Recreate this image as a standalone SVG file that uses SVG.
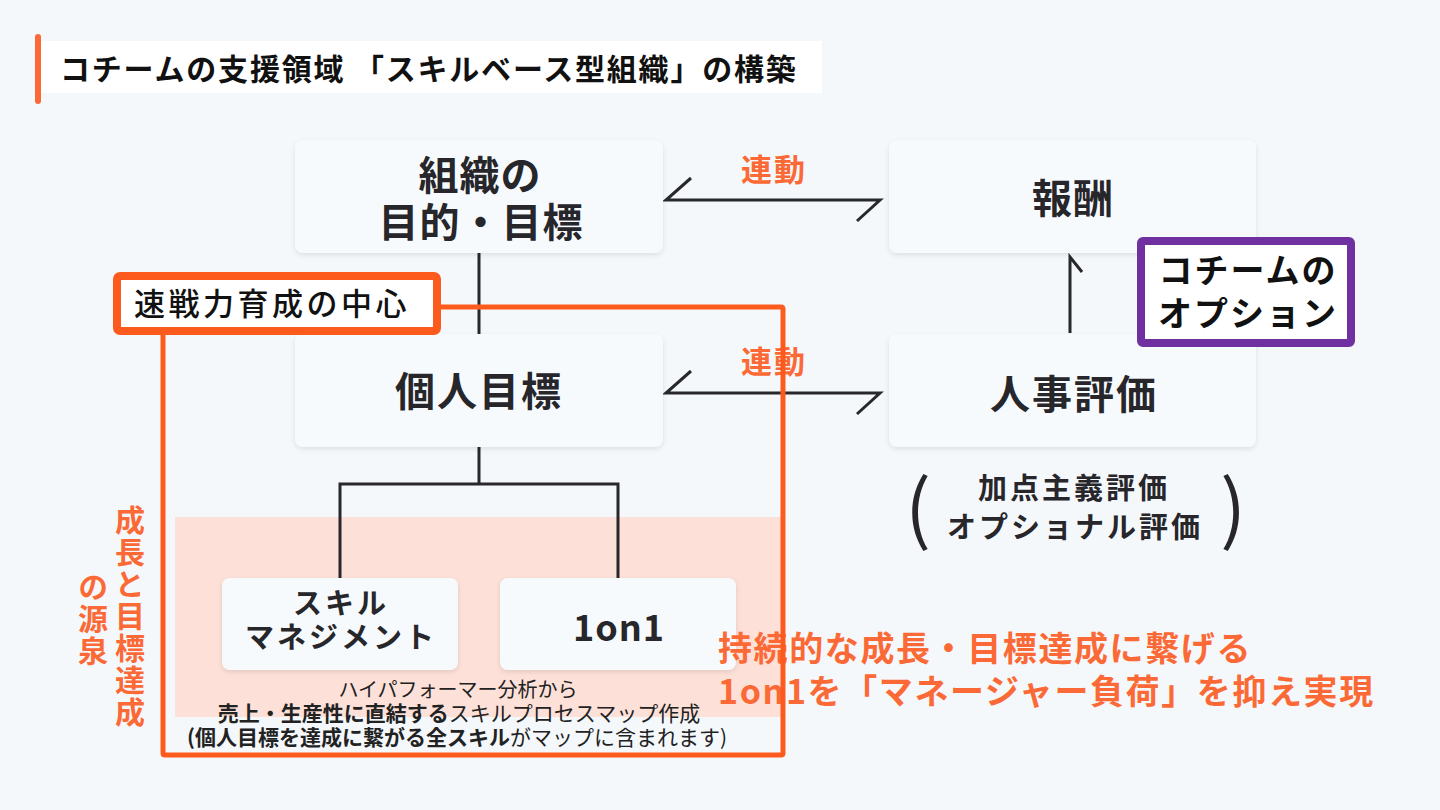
<svg xmlns="http://www.w3.org/2000/svg" width="1440" height="810" viewBox="0 0 1440 810">
<defs>
<filter id="sh" x="-10%" y="-10%" width="120%" height="130%">
<feDropShadow dx="0" dy="2" stdDeviation="2.5" flood-color="#000" flood-opacity="0.10"/>
</filter>
<style>
text{font-family:"Noto Sans CJK JP","Noto Sans",sans-serif;}
.node{fill:#f7fafd;filter:url(#sh);}
.nt{font-weight:700;fill:#26262b;text-anchor:middle;}
.conn{stroke:#27272c;stroke-width:3;fill:none;}
.or{fill:#fb6a36;font-weight:700;}
.frame{stroke:#fd5a1e;fill:none;}
</style>
</defs>
<rect width="1440" height="810" fill="#f5f8fb"/>

<g id="title">
<rect x="40" y="41" width="782" height="52" fill="#ffffff"/>
<rect x="35" y="34" width="6" height="70" rx="3" fill="#fb6a36"/>
<text x="60" y="80" font-size="30" font-weight="700" letter-spacing="1.8" fill="#111">コチームの支援領域 「スキルベース型組織」の構築</text>
</g>

<g id="pink-area">
<rect x="175" y="517" width="608" height="200" fill="#fde0d7"/>
</g>

<g id="connectors">
<line class="conn" x1="479" y1="253" x2="479" y2="334"/>
<path class="conn" d="M479 447 V484 M340 578 V484 H618 V578"/>
<path class="conn" d="M691 178 L666 200 H880 L857 221"/>
<path class="conn" d="M691 371 L666 393 H880 L857 414"/>
<path class="conn" d="M1070 333 V257 L1082 272"/>
</g>

<g id="labels-rendo">
<text class="or" x="774" y="181" font-size="31" letter-spacing="2" text-anchor="middle">連動</text>
<text class="or" x="774" y="373" font-size="31" letter-spacing="2" text-anchor="middle">連動</text>
</g>

<g id="node-org">
<rect class="node" x="295" y="140" width="368" height="113" rx="8"/>
<text class="nt" x="480" y="190" font-size="40" letter-spacing="1">組織の</text>
<text class="nt" x="481" y="237" font-size="40" letter-spacing="1">目的・目標</text>
</g>

<g id="node-reward">
<rect class="node" x="889" y="140" width="367" height="113" rx="8"/>
<text class="nt" x="1073" y="213" font-size="40" letter-spacing="1">報酬</text>
</g>

<g id="node-personal">
<rect class="node" x="295" y="334" width="368" height="113" rx="8"/>
<text class="nt" x="479" y="406" font-size="40" letter-spacing="2">個人目標</text>
</g>

<g id="node-eval">
<rect class="node" x="889" y="334" width="367" height="113" rx="8"/>
<text class="nt" x="1074" y="409" font-size="40" letter-spacing="2">人事評価</text>
</g>

<g id="eval-note">
<text class="nt" x="1074" y="499" font-size="29" letter-spacing="3">加点主義評価</text>
<text class="nt" x="1075" y="538" font-size="29" letter-spacing="3">オプショナル評価</text>
<text x="918" y="536" font-size="76" font-weight="400" fill="#26262b" text-anchor="middle">(</text>
<text x="1233" y="536" font-size="76" font-weight="400" fill="#26262b" text-anchor="middle">)</text>
</g>

<g id="option-box">
<rect x="1141" y="241" width="210" height="102" fill="#ffffff" stroke="#7030a0" stroke-width="8" rx="2"/>
<text x="1248" y="283" font-size="34" font-weight="700" letter-spacing="2" fill="#111" text-anchor="middle">コチームの</text>
<text x="1248" y="326" font-size="34" font-weight="700" letter-spacing="2" fill="#111" text-anchor="middle">オプション</text>
</g>

<g id="node-skill">
<rect class="node" x="222" y="578" width="236" height="92" rx="8"/>
<text class="nt" x="341" y="614" font-size="29" letter-spacing="3">スキル</text>
<text class="nt" x="341" y="648" font-size="29" letter-spacing="3">マネジメント</text>
</g>

<g id="node-1on1">
<rect class="node" x="500" y="578" width="236" height="92" rx="8"/>
<text class="nt" x="619" y="641" font-size="36" letter-spacing="1">1on1</text>
</g>

<g id="map-note" font-size="21" fill="#222" text-anchor="middle">
<text x="458" y="697" font-weight="400" font-size="20">ハイパフォーマー分析から</text>
<text x="459" y="721"><tspan font-weight="700">売上・生産性に直結する</tspan><tspan font-weight="400">スキルプロセスマップ作成</tspan></text>
<text x="457" y="745"><tspan font-weight="700">(個人目標を達成に繋がる全スキル</tspan><tspan font-weight="400">がマップに含まれます)</tspan></text>
</g>

<g id="vertical-label">
<text class="or" x="130" y="505" font-size="30" letter-spacing="2" style="writing-mode:vertical-rl;">成長と目標達成</text>
<text class="or" x="93" y="572" font-size="30" letter-spacing="2" style="writing-mode:vertical-rl;">の源泉</text>
</g>

<g id="summary">
<text class="or" x="718" y="661" font-size="34" letter-spacing="1.6">持続的な成長・目標達成に繋げる</text>
<text class="or" x="718" y="704" font-size="34" letter-spacing="1.6">1on1を「マネージャー負荷」を抑え実現</text>
</g>

<g id="core-frame">
<path class="frame" stroke-width="5" d="M441 307 H781 Q783 307 783 309 V753 Q783 755 781 755 H165 Q163 755 163 753 V335"/>
<rect x="117" y="276" width="320" height="55" rx="3" fill="#ffffff" stroke="#fd5a1e" stroke-width="8"/>
<text x="134" y="315" font-size="31" font-weight="500" letter-spacing="3.5" fill="#111">速戦力育成の中心</text>
</g>
</svg>
